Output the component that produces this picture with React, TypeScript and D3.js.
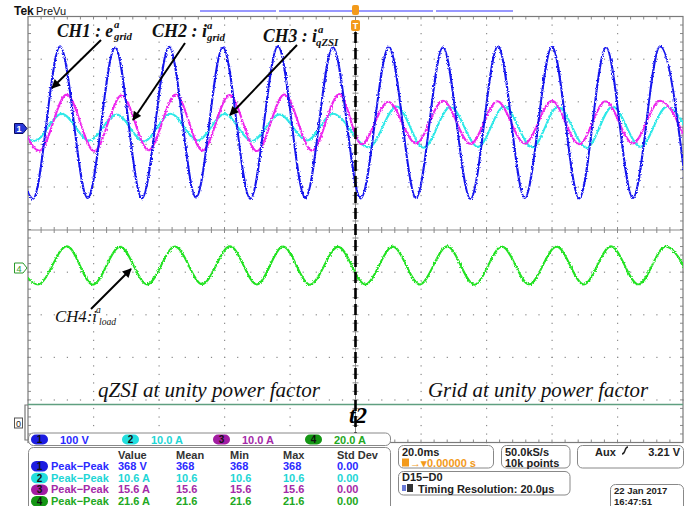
import React from "react";
import * as d3 from "d3";

// horizontal: 20 ms/div, 10 divs, trigger (t2) at centre
// vertical: 10 divs on screen, channel positions in divs
const ch1Times = [-106.8, -98.5, -90.2, -81.8, -73.4, -65.2, -56.9, -48.7, -40.5, -32.1, -23.7, -15.3, -6.9, 1.6, 10.2, 18.5, 26.7, 35.1, 43.5, 51.7, 60.0, 68.3, 76.5, 84.7, 93.0, 101.3];
const ch1Values = [188, -168, 190, -166, 187, -167, 189, -165, 188, -168, 190, -166, 188, -167, 189, -166, 188, -168, 190, -166, 189, -167, 188, -166, 190, -168];

const ch2Times = [-106.3, -98.0, -89.7, -81.3, -72.9, -64.7, -56.4, -48.2, -40.0, -31.6, -23.2, -14.8, -6.9, 4.0, 12.6, 20.8, 29.0, 37.4, 45.4, 54.0, 61.8, 70.6, 78.5, 87.0, 95.1, 103.5];
const ch2Values = [3.1, -3.2, 3.2, -3.1, 3.0, -3.3, 3.2, -3.1, 3.1, -3.2, 3.0, -3.1, 3.2, -4.7, 4.9, -4.8, 4.8, -4.6, 4.9, -4.7, 4.8, -4.8, 4.9, -4.6, 4.8, -4.7];

const ch3Times = [-104.8, -96.5, -88.2, -79.8, -71.4, -63.2, -54.9, -46.7, -38.5, -30.1, -21.7, -13.3, -4.9, 1.8, 10.0, 18.5, 26.7, 35.1, 43.3, 51.7, 60.0, 68.3, 76.3, 84.7, 93.0, 101.3];
const ch3Values = [7.6, -5.5, 7.7, -5.6, 7.5, -5.4, 7.7, -5.5, 7.6, -5.6, 7.7, -5.5, 7.8, -4.0, 6.0, -3.8, 6.2, -3.9, 6.1, -3.8, 6.2, -4.0, 6.1, -3.8, 6.2, -3.9];

const ch4Times = [-105.4, -97.0, -88.1, -80.2, -71.9, -63.6, -55.1, -46.8, -38.3, -30.1, -22.1, -13.9, -5.3, 3.0, 11.4, 19.6, 28.0, 36.3, 44.7, 53.0, 61.4, 69.7, 78.0, 86.4, 94.7, 103.0];
const ch4Values = [9.8, -8.0, 9.9, -8.1, 9.7, -8.0, 9.8, -7.9, 9.9, -8.0, 9.8, -8.1, 9.7, -8.0, 9.8, -8.0, 9.9, -8.1, 9.8, -7.9, 9.8, -8.0, 9.9, -8.0, 9.8, -8.1];

const chLabels = ["1", "2", "3", "4"];
const chScales = ["100 V", "10.0 A", "10.0 A", "20.0 A"];
const measHeaders = ["Value", "Mean", "Min", "Max", "Std Dev"];
const measName = "Peak\u2212Peak";
const measValue = ["368 V", "10.6 A", "15.6 A", "21.6 A"];
const measMean = ["368", "10.6", "15.6", "21.6"];
const measMin = ["368", "10.6", "15.6", "21.6"];
const measMax = ["368", "10.6", "15.6", "21.6"];
const measStd = ["0.00", "0.00", "0.00", "0.00"];

const pillFill = ["#1c1ce0", "#22dede", "#a21ca2", "#149614"];
const textCol = ["#2a2aff", "#1ed6d6", "#a42aa8", "#22a822"];

const xSc = d3.scaleLinear().domain([-100, 100]).range([28, 683]);
const ySc = d3.scaleLinear().domain([-5, 5]).range([442.5, 16.5]);

const traces = [
  { t: ch2Times, v: ch2Values, scale: 10, pos: 2.4, color: "#2ee8e8" },
  { t: ch3Times, v: ch3Values, scale: 10, pos: 2.4, color: "#ee28ee" },
  { t: ch1Times, v: ch1Values, scale: 100, pos: 2.4, color: "#1818ee" },
  { t: ch4Times, v: ch4Values, scale: 20, pos: -0.89, color: "#22e222" },
];

const line = d3.line<[number, number]>().x(d => d[0]).y(d => d[1]).curve(d3.curveMonotoneX);

const serif = "'Liberation Serif', 'Times New Roman', serif";
const sans = "'Liberation Sans', Arial, sans-serif";

function Label(p: any) {
  return (
    <g fontFamily={serif} fontStyle="italic" fontWeight={p.bold ? "bold" : "normal"} fill="#111">
      <text x={p.x} y={p.y} fontSize={p.size} textLength={p.len} lengthAdjust="spacingAndGlyphs">{p.main}</text>
      <text x={p.supX} y={p.supY} fontSize={p.size * 0.6}>a</text>
      <text x={p.subX} y={p.subY} fontSize={p.size * 0.6}>{p.sub}</text>
    </g>
  );
}

export default function App() {
  const x0 = 28, x1 = 683, y0 = 16.5, y1 = 442.5;
  const divX = (x1 - x0) / 10, divY = (y1 - y0) / 10;
  const gridCol = "#8a8a8a";

  const dots: JSX.Element[] = [];
  d3.range(1, 10).forEach(k => {
    if (k === 5) return;
    const gx = x0 + k * divX;
    d3.range(0, 51).forEach(j => dots.push(<rect key={`v${k}-${j}`} x={gx - 0.5} y={y0 + j * divY / 5 - 0.5} width={1.2} height={1.2} fill={gridCol} />));
    const gy = y0 + k * divY;
    d3.range(0, 51).forEach(j => dots.push(<rect key={`h${k}-${j}`} x={x0 + j * divX / 5 - 0.5} y={gy - 0.5} width={1.2} height={1.2} fill={gridCol} />));
  });
  const ticks: JSX.Element[] = [];
  d3.range(1, 50).forEach(j => {
    const tx = x0 + j * divX / 5;
    ticks.push(<line key={`tt${j}`} x1={tx} x2={tx} y1={y0} y2={y0 + 3} />);
    ticks.push(<line key={`tb${j}`} x1={tx} x2={tx} y1={y1} y2={y1 - 3} />);
    ticks.push(<line key={`tc${j}`} x1={tx} x2={tx} y1={230 - 3} y2={230 + 3} />);
    const ty = y0 + j * divY / 5;
    ticks.push(<line key={`tl${j}`} x1={x0} x2={x0 + 3} y1={ty} y2={ty} />);
    ticks.push(<line key={`tr${j}`} x1={x1} x2={x1 - 3} y1={ty} y2={ty} />);
    ticks.push(<line key={`tm${j}`} x1={355.5 - 3} x2={355.5 + 3} y1={ty} y2={ty} />);
  });

  const rowY = [470, 481.7, 493.4, 505.1];
  const colX = [118, 176, 230, 283, 337];

  return (
    <svg width={699} height={506} style={{ position: "absolute", left: 0, top: 0, background: "#fff" }}>
      <defs>
        <clipPath id="plot"><rect x={x0} y={y0} width={x1 - x0} height={y1 - y0} /></clipPath>
        <filter id="jit" x="-5%" y="-10%" width="110%" height="120%">
          <feTurbulence type="fractalNoise" baseFrequency="0.8" numOctaves="1" seed="4" result="n" />
          <feDisplacementMap in="SourceGraphic" in2="n" scale="3.5" xChannelSelector="R" yChannelSelector="G" />
        </filter>
        <marker id="ah" viewBox="0 0 10 10" refX="9" refY="5" markerWidth="11" markerHeight="9" markerUnits="userSpaceOnUse" orient="auto">
          <path d="M0,0 L10,5 L0,10 z" fill="#000" />
        </marker>
      </defs>

      {/* header */}
      <text x={14} y={15} fontFamily={sans} fontWeight="bold" fontSize={12} fill="#111">Tek</text>
      <text x={36} y={15} fontFamily={sans} fontSize={11} fill="#111">PreVu</text>
      <g stroke="#9898ff" strokeWidth={2}>
        <line x1={200} x2={276} y1={11} y2={11} />
        <line x1={279} x2={433} y1={11} y2={11} />
        <line x1={436} x2={513} y1={11} y2={11} />
      </g>

      {/* graticule */}
      {dots}
      <g stroke={gridCol} strokeWidth={1}>
        {ticks}
        <line x1={x0} x2={x1} y1={230} y2={230} />
        <line x1={355.5} x2={355.5} y1={y0} y2={y1} />
      </g>
      <rect x={x0} y={y0} width={x1 - x0} height={y1 - y0} fill="none" stroke="#7a7a7a" strokeWidth={1.2} />

      {/* digital baseline */}
      <line x1={x0} x2={x1} y1={404.5} y2={404.5} stroke="#5f9f80" strokeWidth={1.5} />

      {/* traces */}
      <g clipPath="url(#plot)">
        <g filter="url(#jit)">
          {traces.map((tr, i) => (
            <path key={i} d={line(tr.t.map((t, j) => [xSc(t), ySc(tr.pos + tr.v[j] / tr.scale)]) as [number, number][]) || ""}
              fill="none" stroke={tr.color} strokeWidth={2} />
          ))}
        </g>
      </g>

      {/* t2 marker line */}
      <line x1={355.5} x2={355.5} y1={32} y2={442} stroke="#000" strokeWidth={2.6} strokeDasharray="11 5" />
      <rect x={352} y={5} width={7} height={10} rx={2} fill="#f39a1a" />
      <rect x={351} y={20} width={9} height={11} rx={2} fill="#f39a1a" />
      <text x={355.5} y={29} textAnchor="middle" fontFamily={sans} fontWeight="bold" fontSize={9} fill="#fff">T</text>
      <text x={349} y={423} fontFamily={serif} fontStyle="italic" fontWeight="bold" fontSize={23} fill="#000">t2</text>

      {/* channel markers */}
      <path d="M14.5,123.5 H23 L27,128.5 L23,133.5 H14.5 Z" fill="#2a3ad8" stroke="#0a0a60" strokeWidth={1} />
      <text x={19} y={132} textAnchor="middle" fontFamily={sans} fontWeight="bold" fontSize={9} fill="#fff">1</text>
      <path d="M14.5,263 H23 L27,268 L23,273 H14.5 Z" fill="#fff" stroke="#2a9a2a" strokeWidth={1} />
      <text x={19} y={271.5} textAnchor="middle" fontFamily={sans} fontSize={9} fill="#2a9a2a">4</text>
      <rect x={14.5} y={418} width={8} height={10} fill="#fff" stroke="#555" strokeWidth={1} />
      <text x={18.5} y={426.5} textAnchor="middle" fontFamily={sans} fontSize={9} fill="#222">0</text>
      <path d="M28,405 H25 V440 H28" fill="none" stroke="#777" strokeWidth={1.2} />

      {/* annotations */}
      <Label x={57} y={37} size={18} bold len={56} main="CH1 : e" supX={114} supY={28} subX={114} subY={40} sub="grid" />
      <Label x={152} y={37} size={18} bold len={55} main="CH2 : i" supX={207} supY={29} subX={207} subY={41} sub="grid" />
      <Label x={263} y={42} size={18} bold len={54} main="CH3 : i" supX={318} supY={33} subX={316} subY={46} sub="qZSI" />
      <Label x={55} y={322} size={16} len={42} main="CH4:i" supX={96} supY={313} subX={99} subY={325} sub="load" />
      <g stroke="#000" strokeWidth={2}>
        <line x1={101} y1={40} x2={52} y2={88} markerEnd="url(#ah)" />
        <line x1={185} y1={43} x2={133} y2={120} markerEnd="url(#ah)" />
        <line x1={297} y1={45} x2={230} y2={115} markerEnd="url(#ah)" />
        <line x1={91} y1={309} x2={131} y2={269} markerEnd="url(#ah)" />
      </g>
      <text x={98} y={397} fontFamily={serif} fontStyle="italic" fontSize={22} textLength={222} lengthAdjust="spacingAndGlyphs" fill="#111">qZSI at unity power factor</text>
      <text x={428} y={397} fontFamily={serif} fontStyle="italic" fontSize={22} textLength={220} lengthAdjust="spacingAndGlyphs" fill="#111">Grid at unity power factor</text>

      {/* channel bar */}
      <g fontFamily={sans} fontWeight="bold" fontSize={11}>
        <rect x={28.5} y={433} width={362} height={12.5} rx={5} fill="#fff" stroke="#888" strokeWidth={1} />
        {chLabels.map((c, i) => {
          const px = [31, 122, 213, 305][i];
          return (
            <g key={c}>
              <rect x={px} y={434.5} width={17} height={10} rx={5} fill={pillFill[i]} />
              <text x={px + 8.5} y={443.3} textAnchor="middle" fontSize={10} fill="#111">{c}</text>
              <text x={px + 29} y={443.5} fill={textCol[i]}>{chScales[i]}</text>
            </g>
          );
        })}

        {/* measurement table */}
        <rect x={28.5} y={447.5} width={362} height={70} rx={5} fill="#fff" stroke="#888" strokeWidth={1} />
        {measHeaders.map((h, i) => (
          <text key={h} x={colX[i]} y={458.5} fill="#333">{h}</text>
        ))}
        {chLabels.map((c, i) => (
          <g key={"m" + c} fill={textCol[i]}>
            <rect x={31} y={rowY[i] - 9} width={17} height={10.5} rx={5.2} fill={pillFill[i]} />
            <text x={39.5} y={rowY[i]} textAnchor="middle" fontSize={10} fill="#111">{c}</text>
            <text x={51} y={rowY[i]}>{measName}</text>
            <text x={colX[0]} y={rowY[i]}>{measValue[i]}</text>
            <text x={colX[1]} y={rowY[i]}>{measMean[i]}</text>
            <text x={colX[2]} y={rowY[i]}>{measMin[i]}</text>
            <text x={colX[3]} y={rowY[i]}>{measMax[i]}</text>
            <text x={colX[4]} y={rowY[i]}>{measStd[i]}</text>
          </g>
        ))}

        {/* right info boxes */}
        <g fill="#fff" stroke="#888" strokeWidth={1}>
          <rect x={398.5} y={445.5} width={95} height={22.5} rx={5} />
          <rect x={501.5} y={445.5} width={68.5} height={22.5} rx={5} />
          <rect x={577.5} y={445.5} width={106} height={22.5} rx={5} />
          <rect x={398.5} y={471.5} width={171.5} height={23.5} rx={5} />
          <rect x={610.5} y={484.5} width={73} height={30} rx={5} />
        </g>
        <text x={402} y={455.5} fill="#222">20.0ms</text>
        <rect x={402} y={458.5} width={7} height={8} fill="#f39a1a" />
        <text x={410} y={466.5} fill="#f39a1a">{"\u2192\u25BE0.00000 s"}</text>
        <text x={505} y={455.5} fill="#222">50.0kS/s</text>
        <text x={505} y={466.5} fill="#222">10k points</text>
        <text x={595} y={455.5} fill="#222">Aux</text>
        <path d="M622,454 C626,454 624,447 628,447" fill="none" stroke="#222" strokeWidth={1.4} />
        <text x={680} y={455.5} textAnchor="end" fill="#222">3.21 V</text>
        <text x={402} y={481} fill="#222">{"D15\u2212D0"}</text>
        <rect x={402} y={485} width={4} height={6} fill="#6a7ad8" />
        <rect x={407} y={484} width={6} height={8} fill="#333" />
        <text x={418} y={492.5} fill="#222">Timing Resolution: 20.0µs</text>
        <text x={614} y={494} fontSize={9.5} fill="#222">22 Jan  2017</text>
        <text x={614} y={505} fontSize={9.5} fill="#222">16:47:51</text>
      </g>
    </svg>
  );
}
